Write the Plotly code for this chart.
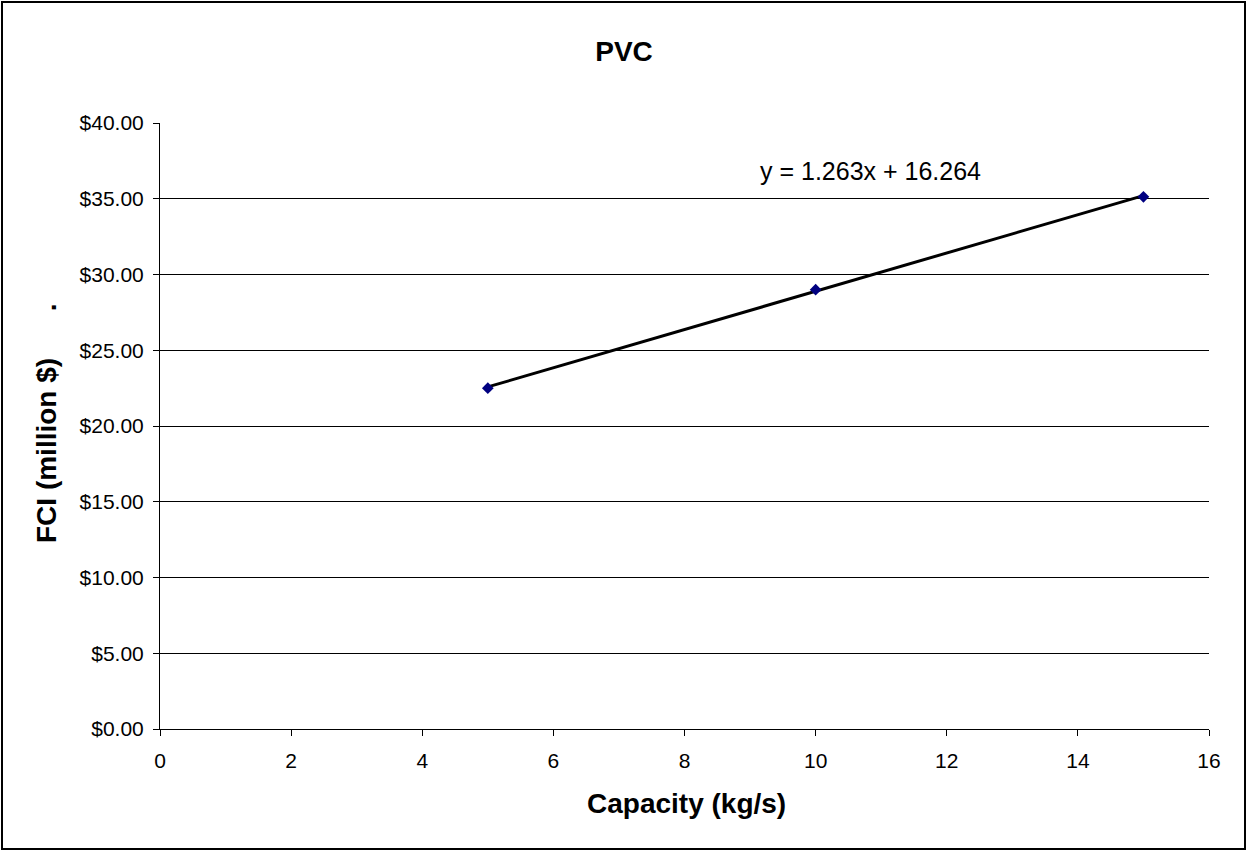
import plotly.graph_objects as go

capacity = [5, 10, 15]
fci = [22.5, 29.0, 35.13]
slope = 1.263
intercept = 16.264
trend_x = [5, 15]
trend_y = [slope * x + intercept for x in trend_x]

W, H = 1247, 851
L, R, T, B = 160, 38, 123, 122
pw, ph = W - L - R, H - T - B

def px(x):
    return (x - L) / pw

def py(y):
    return (H - B - y) / ph

fig = go.Figure()
fig.add_trace(go.Scatter(x=trend_x, y=trend_y, mode="lines",
                         line=dict(color="black", width=3), showlegend=False))
fig.add_trace(go.Scatter(x=capacity, y=fci, mode="markers",
                         marker=dict(symbol="diamond", size=9, color="#000080"),
                         showlegend=False))

fig.add_annotation(x=10.83, y=36.8, xref="x", yref="y", showarrow=False,
                   text="y = 1.263x + 16.264", xanchor="center", yanchor="middle",
                   font=dict(family="Arial, Liberation Sans", size=25, color="black"))

# axis titles
fig.add_annotation(x=px(686), y=py(803), xref="paper", yref="paper", showarrow=False,
                   text="<b>Capacity (kg/s)</b>", xanchor="center", yanchor="middle",
                   font=dict(size=28))
fig.add_annotation(x=px(46), y=py(423), xref="paper", yref="paper", showarrow=False,
                   text="<b>FCI (million $)&nbsp;&nbsp;&nbsp;&nbsp;&nbsp;&nbsp;.</b>",
                   textangle=-90, xanchor="center", yanchor="middle", font=dict(size=28))

fig.add_shape(type="rect", xref="paper", yref="paper",
              x0=px(2), x1=px(1245), y0=py(849), y1=py(2),
              line=dict(color="black", width=2), fillcolor="rgba(0,0,0,0)")

fig.update_layout(
    width=W, height=H,
    margin=dict(l=L, r=R, t=T, b=B),
    paper_bgcolor="white", plot_bgcolor="white",
    font=dict(family="Arial, Liberation Sans", color="black", size=21),
    title=dict(text="<b>PVC</b>", x=624 / W, xanchor="center", y=1 - 51 / H,
               yanchor="middle", font=dict(size=28)),
)
fig.update_xaxes(range=[0, 16], dtick=2, showgrid=False, zeroline=False,
                 showline=True, linecolor="black", linewidth=1,
                 ticks="outside", ticklen=6, tickcolor="black",
                 ticklabelstandoff=7, tickfont=dict(size=21))
fig.update_yaxes(range=[0, 40], dtick=5, showgrid=True, gridcolor="black", gridwidth=1,
                 zeroline=False, showline=True, linecolor="black", linewidth=1,
                 ticks="outside", ticklen=6, tickcolor="black",
                 ticklabelstandoff=5,
                 tickprefix="$", tickformat=".2f", tickfont=dict(size=21))

fig.write_html("out.html")
